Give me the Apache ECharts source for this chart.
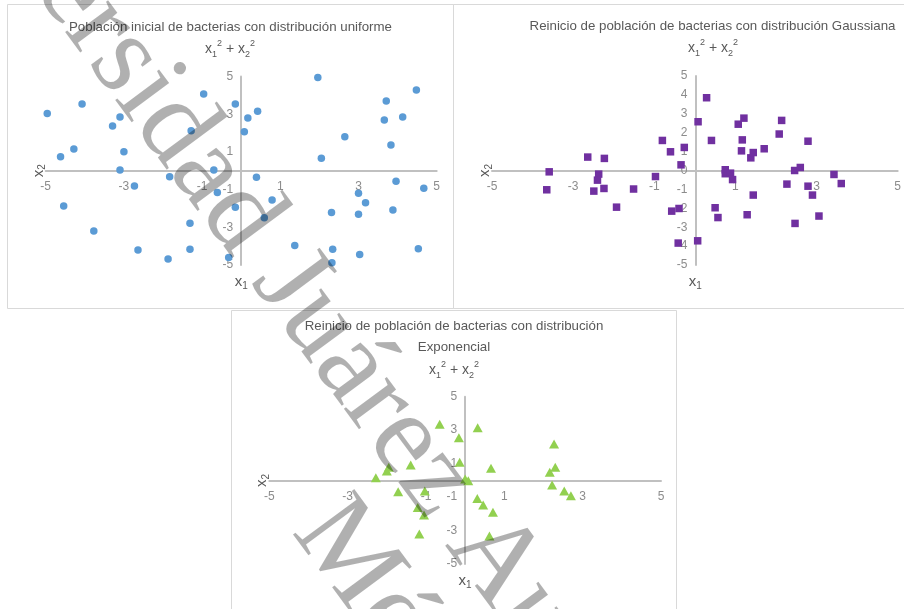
<!DOCTYPE html>
<html>
<head>
<meta charset="utf-8">
<title>Poblaciones de bacterias</title>
<script src="https://cdn.jsdelivr.net/npm/echarts@6/dist/echarts.min.js"></script>
<style>
  html, body { margin: 0; padding: 0; background: #fff; }
  #main { width: 904px; height: 609px; }
</style>
</head>
<body>
<div id="main"></div>
<script>
// poblacion inicial, distribucion uniforme
var uniformX1 = [-4.96, -4.07, -4.62, -4.28, -4.54, -3.77, -3.29, -3.10, -3.00, -3.10, -2.73, -2.64, -1.87, -1.83, -1.31, -1.31, -1.28, -0.96, -0.70, -0.61, -0.32, -0.15, -0.15, 0.08, 0.17, 0.42, 0.39, 0.59, 0.79, 1.37, 1.96, 2.05, 2.31, 2.34, 2.32, 2.65, 3.00, 3.00, 3.03, 3.18, 3.66, 3.71, 3.83, 3.88, 3.96, 4.13, 4.48, 4.53, 4.67]
var uniformX2 = [3.04, 3.54, 0.74, 1.15, -1.87, -3.20, 2.37, 2.85, 1.01, 0.04, -0.81, -4.21, -4.68, -0.32, -2.79, -4.17, 2.12, 4.07, 0.04, -1.15, -4.60, 3.54, -1.93, 2.07, 2.80, 3.15, -0.35, -2.49, -1.55, -3.96, 4.95, 0.66, -2.21, -4.17, -4.88, 1.80, -1.20, -2.31, -4.44, -1.70, 2.69, 3.70, 1.36, -2.08, -0.56, 2.85, 4.28, -4.14, -0.93]

// reinicio gaussiano
var gaussX1 = [-3.59, -3.65, -2.64, -2.23, -2.37, -2.40, -2.49, -2.24, -1.93, -1.51, -0.97, -0.80, -0.60, -0.57, -0.39, -0.41, -0.34, -0.26, 0.08, 0.07, 0.29, 0.41, 0.50, 0.57, 0.75, 0.75, 0.88, 0.93, 1.07, 1.21, 1.17, 1.15, 1.38, 1.44, 1.44, 1.29, 1.71, 2.08, 2.14, 2.27, 2.46, 2.60, 2.47, 2.79, 2.79, 2.90, 3.06, 3.43, 3.61]
var gaussX2 = [-0.07, -1.02, 0.71, 0.64, -0.19, -0.51, -1.09, -0.95, -1.94, -0.98, -0.32, 1.59, 0.99, -2.15, -2.01, -3.84, 0.30, 1.22, 2.58, -3.72, 3.85, 1.59, -1.97, -2.49, 0.04, -0.17, -0.14, -0.48, 2.45, 2.77, 1.62, 1.04, 0.67, 0.95, -1.30, -2.34, 1.15, 1.93, 2.65, -0.72, 0.00, 0.16, -2.80, 1.55, -0.83, -1.30, -2.41, -0.21, -0.69]

// reinicio exponencial
var expoX1 = [-0.65, 0.32, -0.16, 2.27, -0.14, -1.39, -1.95, -2.00, -2.28, 0.66, 2.30, 2.16, 0.00, 0.08, 2.22, 2.53, 2.70, -1.71, -1.03, 0.31, 0.46, 0.71, -1.21, -1.05, -1.17, 0.62]
var expoX2 = [3.35, 3.15, 2.55, 2.17, 1.08, 0.92, 0.78, 0.56, 0.16, 0.72, 0.78, 0.48, 0.08, -0.02, -0.28, -0.64, -0.92, -0.68, -0.64, -1.08, -1.47, -1.91, -1.63, -2.07, -3.21, -3.33]

var titles = [
  'Población inicial de bacterias con distribución uniforme',
  'Reinicio de población de bacterias con distribución Gaussiana',
  'Reinicio de población de bacterias con distribución',
  'Exponencial'
]
var watermark = ['Universidad Juárez Autónoma de Tabasco', 'México']

var font = '"Liberation Sans Narrow", "Liberation Sans", sans-serif'
var titleColor = '#595959'
var labelColor = '#8c8c8c'

function pairs(a, b) {
  return a.map(function (v, i) { return [v, b[i]] })
}

var grids = [
  { left: 45.7, top: 76.5, width: 391, height: 188.5 },
  { left: 492, top: 76, width: 406.7, height: 189 },
  { left: 269.3, top: 396.7, width: 391.7, height: 167.3 }
]
var yStep = [2, 1, 2]

var nameRich = {
  v: { fontSize: 15, color: titleColor, fontFamily: font },
  s: { fontSize: 10, color: titleColor, fontFamily: font, padding: [8, 0, 0, 0] }
}

// the axes cross at the origin, so each one is shifted to the middle of its grid
var xAxes = grids.map(function (g, i) {
  return {
    type: 'value', gridIndex: i, min: -5, max: 5, interval: 2,
    position: 'bottom', offset: -g.height / 2,
    axisLine: { onZero: false, lineStyle: { color: '#c0c0c0', width: 2 } },
    axisTick: { show: false },
    splitLine: { show: false },
    axisLabel: { color: labelColor, fontSize: 12, fontFamily: font, margin: 10 },
    name: '{v|x}{s|2}', nameLocation: 'start', nameRotate: 90, nameGap: -2,
    nameTextStyle: { rich: nameRich }
  }
})
var yAxes = grids.map(function (g, i) {
  return {
    type: 'value', gridIndex: i, min: -5, max: 5, interval: yStep[i],
    position: 'left', offset: -g.width / 2,
    axisLine: { onZero: false, lineStyle: { color: '#c0c0c0', width: 2 } },
    axisTick: { show: false },
    splitLine: { show: false },
    axisLabel: { color: labelColor, fontSize: 12, fontFamily: font, margin: 8 },
    name: '{v|x}{s|1}', nameLocation: 'start', nameGap: 8,
    nameTextStyle: { rich: nameRich }
  }
})

function subtitle(cx, cy) {
  return {
    type: 'text', x: cx, y: cy, silent: true,
    style: {
      text: '{v|x}{sb|1}{sp|2}{v| + x}{sb|2}{sp|2}',
      align: 'center', verticalAlign: 'middle',
      rich: {
        v: { fontSize: 14, fill: titleColor, fontFamily: font, lineHeight: 20 },
        sb: { fontSize: 9, fill: titleColor, fontFamily: font, lineHeight: 12, verticalAlign: 'bottom' },
        sp: { fontSize: 9, fill: titleColor, fontFamily: font, lineHeight: 14, verticalAlign: 'top' }
      }
    }
  }
}
function titleText(t, cx, cy) {
  return {
    type: 'text', x: cx, y: cy, silent: true,
    style: { text: t, align: 'center', verticalAlign: 'middle', fontSize: 13.3, fill: titleColor, fontFamily: font }
  }
}
function frame(x, y, w, h) {
  return {
    type: 'rect', silent: true, z: -10,
    shape: { x: x, y: y, width: w, height: h },
    style: { fill: null, stroke: '#d9d9d9', lineWidth: 1 }
  }
}

var ang = -53.5 * Math.PI / 180
var chart = echarts.init(document.getElementById('main'))
chart.setOption({
  animation: false,
  backgroundColor: '#fff',
  grid: grids,
  xAxis: xAxes,
  yAxis: yAxes,
  series: [
    { type: 'scatter', xAxisIndex: 0, yAxisIndex: 0, symbol: 'circle', symbolSize: 7.5,
      itemStyle: { color: '#5b9bd5', opacity: 1 }, data: pairs(uniformX1, uniformX2) },
    { type: 'scatter', xAxisIndex: 1, yAxisIndex: 1, symbol: 'rect', symbolSize: 7.5,
      itemStyle: { color: '#7030a0', opacity: 1 }, data: pairs(gaussX1, gaussX2) },
    { type: 'scatter', xAxisIndex: 2, yAxisIndex: 2, symbol: 'triangle', symbolSize: [10, 9],
      itemStyle: { color: '#92d050', opacity: 1 }, data: pairs(expoX1, expoX2) }
  ],
  graphic: [
    frame(7.5, 4.5, 446, 304),
    frame(453.5, 4.5, 460, 304),
    frame(231.5, 310.5, 445, 310),
    titleText(titles[0], 230.5, 27),
    subtitle(230, 49),
    titleText(titles[1], 712.5, 26),
    subtitle(713, 48),
    titleText(titles[2], 454, 326),
    titleText(titles[3], 454, 347),
    subtitle(454, 370),
    // marca de agua
    {
      type: 'text', x: -80.8, y: -216.5, rotation: ang, z: 100, silent: true,
      style: { text: watermark[0], align: 'left', verticalAlign: 'middle',
        fontSize: 116.4, fontFamily: '"Liberation Serif", serif', fill: 'rgba(0,0,0,0.31)' }
    },
    {
      type: 'text', x: 315.6, y: 513.6, rotation: ang, z: 100, silent: true,
      style: { text: watermark[1], align: 'left', verticalAlign: 'middle',
        fontSize: 116.4, fontFamily: '"Liberation Serif", serif', fill: 'rgba(0,0,0,0.31)' }
    }
  ]
})
</script>
</body>
</html>
